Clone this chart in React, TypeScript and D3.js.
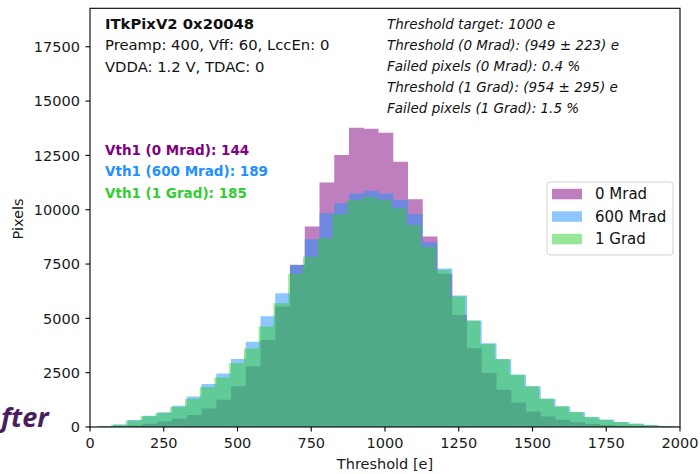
import React from "react";
import * as d3 from "d3";

// ---- data ----
const binWidth = 50;
const seriesNames = ["0 Mrad", "600 Mrad", "1 Grad"];
const seriesColors = ["#800080", "#1e90ff", "#32cd32"];
const binStarts = [28, 28, 22];
const counts0Mrad = [15, 40, 80, 150, 250, 380, 550, 850, 1250, 1870, 2800, 4000, 5550, 7462, 9224, 11247, 12520, 13776, 13730, 13546, 12212, 10483, 8764, 7050, 5150, 3630, 2480, 1715, 1131, 717, 487, 336, 220, 140, 90, 60, 35, 20, 10, 5];
const counts600Mrad = [30, 110, 320, 520, 680, 980, 1400, 1980, 2460, 3126, 3920, 5100, 6160, 7460, 8640, 9840, 10300, 10750, 10870, 10750, 10450, 9800, 8500, 7300, 6050, 4900, 3850, 3120, 2400, 1870, 1300, 940, 680, 450, 330, 225, 145, 85, 45, 20];
const counts1Grad = [30, 100, 300, 490, 640, 920, 1300, 1840, 2280, 2940, 3610, 4630, 5700, 7050, 7840, 8690, 9790, 10450, 10580, 10450, 10070, 9300, 8300, 7230, 6010, 4890, 3820, 3130, 2400, 1870, 1300, 950, 690, 460, 336, 230, 150, 90, 50, 25];
const allCounts = [counts0Mrad, counts600Mrad, counts1Grad];

const xTicks = [0, 250, 500, 750, 1000, 1250, 1500, 1750, 2000];
const yTicks = [0, 2500, 5000, 7500, 10000, 12500, 15000, 17500];

const infoLines = ["Preamp: 400, Vff: 60, LccEn: 0", "VDDA: 1.2 V, TDAC: 0"];
const chipTitle = "ITkPixV2 0x20048";
const vthLines = ["Vth1 (0 Mrad): 144", "Vth1 (600 Mrad): 189", "Vth1 (1 Grad): 185"];
const statLines = [
  "Threshold target: 1000 e",
  "Threshold (0 Mrad): (949 ± 223) e",
  "Failed pixels (0 Mrad): 0.4 %",
  "Threshold (1 Grad): (954 ± 295) e",
  "Failed pixels (1 Grad): 1.5 %",
];
const slideFragment = "fter";

const W = 700;
const H = 474;
const plot = { left: 90, right: 680, top: 8.3, bottom: 427 };
const FONT = "DejaVu Sans";

export default function App() {
  const x = d3.scaleLinear().domain([0, 2000]).range([plot.left, plot.right]);
  const y = d3.scaleLinear().domain([0, 19270]).range([plot.bottom, plot.top]);

  const area = d3
    .area<[number, number]>()
    .x((d) => x(d[0]))
    .y0(y(0))
    .y1((d) => y(d[1]))
    .curve(d3.curveStepAfter);

  const paths = allCounts.map((counts, si) => {
    const pts: [number, number][] = counts.map((c, k) => [binStarts[si] + k * binWidth, c]);
    pts.push([binStarts[si] + counts.length * binWidth, 0]);
    return area(pts) || "";
  });

  const tickColor = "#1a1a1a";

  return (
    <svg
      width={W}
      height={H}
      style={{ position: "absolute", left: 0, top: 0, background: "#fff" }}
      fontFamily={FONT}
    >
      <rect x={0} y={0} width={W} height={H} fill="#fff" />
      <defs>
        <clipPath id="plotclip">
          <rect x={plot.left} y={plot.top} width={plot.right - plot.left} height={plot.bottom - plot.top} />
        </clipPath>
      </defs>

      {/* slide text fragment behind the figure */}
      <text
        x={1}
        y={427}
        fontFamily="Open Sans"
        fontWeight="bold"
        fontStyle="italic"
        fontSize={27}
        fill="#4a1d5f"
      >
        {slideFragment}
      </text>

      <g clipPath="url(#plotclip)">
        {paths.map((p, i) => (
          <path key={i} d={p} fill={seriesColors[i]} fillOpacity={0.5} />
        ))}
      </g>

      {/* frame */}
      <rect
        x={plot.left}
        y={plot.top}
        width={plot.right - plot.left}
        height={plot.bottom - plot.top}
        fill="none"
        stroke="#000"
        strokeWidth={1.1}
      />

      {/* x ticks */}
      {xTicks.map((t) => (
        <g key={"x" + t}>
          <line x1={x(t)} x2={x(t)} y1={plot.bottom} y2={plot.bottom + 4.5} stroke="#000" strokeWidth={1.1} />
          <text x={x(t)} y={448} textAnchor="middle" fontSize={14.5} fill={tickColor}>
            {t}
          </text>
        </g>
      ))}
      {/* y ticks */}
      {yTicks.map((t) => (
        <g key={"y" + t}>
          <line x1={plot.left - 4.5} x2={plot.left} y1={y(t)} y2={y(t)} stroke="#000" strokeWidth={1.1} />
          <text x={80} y={y(t)} dy="0.36em" textAnchor="end" fontSize={14.5} fill={tickColor}>
            {t}
          </text>
        </g>
      ))}

      <text x={385} y={469} textAnchor="middle" fontSize={14.5} fill={tickColor}>
        Threshold [e]
      </text>
      <text
        transform={`translate(22.5,219) rotate(-90)`}
        textAnchor="middle"
        fontSize={14.5}
        fill={tickColor}
      >
        Pixels
      </text>

      {/* top-left annotations */}
      <text x={105} y={29} fontSize={14.8} fontWeight="bold" fill="#111">
        {chipTitle}
      </text>
      {infoLines.map((l, i) => (
        <text key={l} x={105} y={50 + i * 21.5} fontSize={14.8} fill="#111">
          {l}
        </text>
      ))}
      {vthLines.map((l, i) => (
        <text key={l} x={105} y={155 + i * 21.3} fontSize={13.5} fontWeight="bold" fill={seriesColors[i]}>
          {l}
        </text>
      ))}

      {/* top-right stats */}
      {statLines.map((l, i) => (
        <text key={l} x={387} y={29.3 + i * 21} fontSize={13.5} fontStyle="italic" fill="#111">
          {l}
        </text>
      ))}

      {/* legend */}
      <rect x={547} y={182} width={126} height={73} rx={3} fill="#fff" fillOpacity={0.8} stroke="#d3d3d3" strokeWidth={1} />
      {seriesNames.map((n, i) => {
        const cy = 194 + i * 22.5;
        return (
          <g key={n}>
            <rect x={552} y={cy - 5.2} width={30} height={10.5} fill={seriesColors[i]} fillOpacity={0.5} />
            <text x={595} y={cy} dy="0.36em" fontSize={15} fill="#111">
              {n}
            </text>
          </g>
        );
      })}
    </svg>
  );
}
